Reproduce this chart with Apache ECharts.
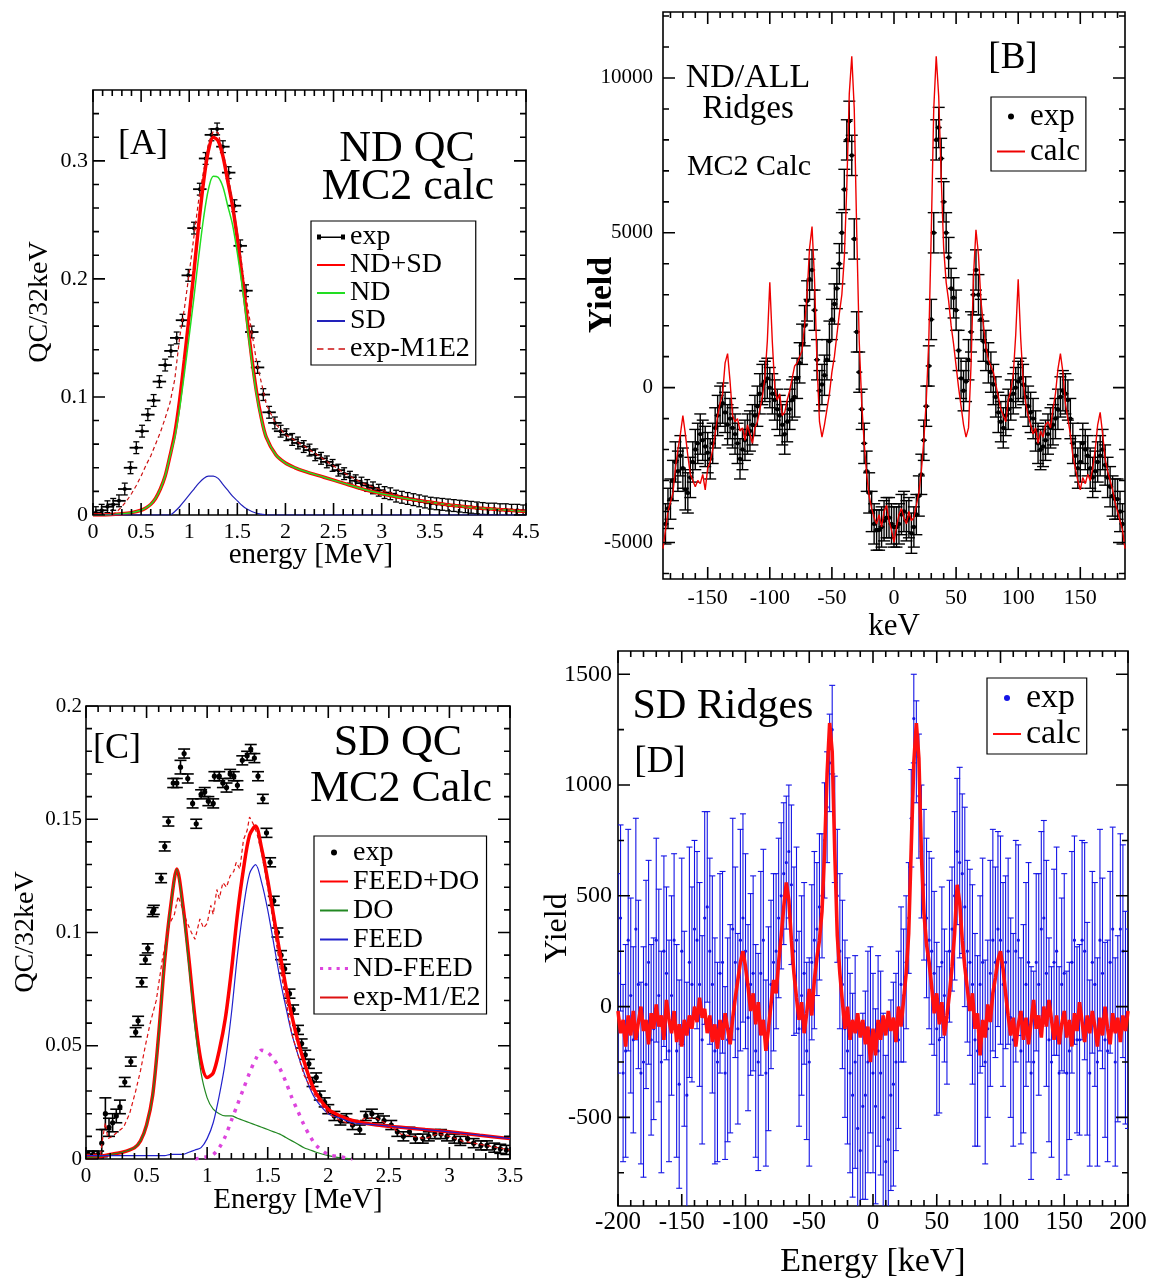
<!DOCTYPE html>
<html><head><meta charset="utf-8">
<script src="https://cdn.jsdelivr.net/npm/echarts@6.0.0/dist/echarts.min.js"></script>
<style>html,body{margin:0;padding:0;background:#fff}#c{width:1151px;height:1282px}</style>
</head><body><div id="c"></div>
<script>
// ---------------- Panel A : ND QC ----------------
const A_xLabels = [0,0.5,1,1.5,2,2.5,3,3.5,4,4.5];
const A_yLabels = [0,0.1,0.2,0.3];
const A_expX = [0.03,0.09,0.15,0.21,0.27,0.33,0.39,0.45,0.51,0.57,0.63,0.69,0.75,0.81,0.87,0.93,0.99,1.05,1.11,1.17,1.23,1.29,1.35,1.41,1.47,1.53,1.59,1.65,1.71,1.77,1.83,1.89,1.95,2.01,2.07,2.13,2.19,2.25,2.31,2.37,2.43,2.49,2.55,2.61,2.67,2.73,2.79,2.85,2.91,2.97,3.03,3.09,3.15,3.21,3.27,3.33,3.39,3.45,3.51,3.57,3.63,3.69,3.75,3.81,3.87,3.93,3.99,4.05,4.11,4.17,4.23,4.29,4.35,4.41,4.47];
const A_expY = [0.002,0.004,0.007,0.009,0.012,0.022,0.04,0.057,0.071,0.085,0.097,0.113,0.127,0.139,0.15,0.165,0.203,0.243,0.276,0.302,0.322,0.327,0.312,0.29,0.262,0.228,0.19,0.155,0.125,0.102,0.087,0.078,0.071,0.068,0.064,0.061,0.058,0.055,0.051,0.048,0.045,0.042,0.038,0.035,0.032,0.029,0.027,0.025,0.023,0.021,0.019,0.018,0.016,0.015,0.014,0.013,0.012,0.011,0.01,0.0095,0.009,0.0085,0.008,0.0075,0.007,0.0065,0.006,0.0055,0.005,0.005,0.0045,0.0045,0.004,0.004,0.0035];
const A_expErr = 0.005;
const A_expXErr = 0.07;
const A_curveX = [0,0.1,0.2,0.3,0.4,0.5,0.55,0.6,0.65,0.7,0.75,0.8,0.85,0.9,0.95,1.0,1.05,1.1,1.15,1.2,1.25,1.3,1.35,1.4,1.45,1.5,1.55,1.6,1.65,1.7,1.75,1.8,1.9,2.0,2.1,2.2,2.4,2.6,2.8,3.0,3.25,3.5,3.75,4.0,4.25,4.5];
const A_ndsd = [0,0,0.0005,0.001,0.002,0.004,0.006,0.009,0.014,0.022,0.033,0.05,0.069,0.097,0.132,0.169,0.207,0.247,0.283,0.309,0.32,0.317,0.304,0.283,0.262,0.234,0.202,0.167,0.133,0.104,0.082,0.066,0.051,0.044,0.04,0.037,0.032,0.027,0.022,0.018,0.014,0.011,0.008,0.006,0.0045,0.003];
const A_nd = [0,0,0.0005,0.001,0.002,0.004,0.006,0.009,0.014,0.022,0.033,0.05,0.066,0.09,0.12,0.152,0.185,0.22,0.252,0.276,0.287,0.286,0.278,0.262,0.246,0.222,0.194,0.162,0.13,0.102,0.081,0.066,0.051,0.044,0.04,0.037,0.032,0.027,0.022,0.018,0.014,0.011,0.008,0.006,0.0045,0.003];
const A_sd = [0,0,0,0,0,0,0,0,0,0,0,0,0.003,0.007,0.012,0.017,0.022,0.027,0.031,0.033,0.033,0.031,0.026,0.021,0.016,0.012,0.008,0.005,0.003,0.0015,0.0008,0,0,0,0,0,0,0,0,0,0,0,0,0,0,0];
const A_m1e2X = [0.2,0.25,0.3,0.35,0.4,0.45,0.5,0.55,0.6,0.65,0.7,0.75,0.8,0.85,0.9,0.95,1.0,1.1,1.2,1.25,1.3,1.4,1.5,1.6,1.7,1.8,1.9,2.0,2.2,2.4,2.6,2.8,3.0,3.25,3.5,3.75,4.0,4.25,4.5];
const A_m1e2Y = [0.0,0.003,0.007,0.012,0.018,0.025,0.033,0.042,0.05,0.06,0.07,0.082,0.095,0.115,0.15,0.175,0.205,0.268,0.315,0.325,0.324,0.29,0.24,0.18,0.13,0.094,0.077,0.068,0.058,0.047,0.036,0.027,0.021,0.015,0.011,0.008,0.006,0.0045,0.0035];

// ---------------- Panel B : ND/ALL Ridges ----------------
const B_xLabels = [-150,-100,-50,0,50,100,150];
const B_yLabels = [-5000,0,5000,10000];
const B_expX = [-184,-180,-176,-172,-168,-164,-160,-156,-152,-148,-144,-140,-136,-132,-128,-124,-120,-116,-112,-108,-104,-100,-96,-92,-88,-84,-80,-76,-72,-68,-64,-60,-56,-52,-48,-44,-40,-36,-32,-28,-24,-20,-16,-12,-8,-4,0,4,8,12,16,20,24,28,32,36,40,44,48,52,56,60,64,68,72,76,80,84,88,92,96,100,104,108,112,116,120,124,128,132,136,140,144,148,152,156,160,164,168,172,176,180,184];
const B_expY = [-4400,-3600,-2400,-2200,-3300,-2900,-2000,-1500,-1900,-2300,-1300,-600,-800,-1000,-1500,-2300,-1700,-1400,-900,-200,200,0,-400,-900,-1500,-700,-300,800,2000,3500,2500,-100,400,1500,2700,4000,6400,8600,4800,500,-1800,-3400,-4400,-4600,-4300,-4200,-4500,-4400,-4000,-4200,-4500,-3500,-1700,700,5000,8400,6000,4200,2900,1200,-100,900,3000,3000,1500,800,100,-800,-1300,-700,-200,200,100,-600,-1000,-1800,-1900,-1500,-1200,-700,-100,-400,-1800,-2600,-1800,-2200,-2900,-2400,-2000,-2900,-3500,-3600,-4400];
const B_exp2X = [-182,-178,-174,-170,-166,-162,-158,-154,-150,-146,-142,-138,-134,-130,-126,-122,-118,-114,-110,-106,-102,-98,-94,-90,-86,-82,-78,-74,-70,-66,-62,-58,-54,-50,-46,-42,-38,-34,-30,-26,-22,-18,-14,-10,-6,-2,2,6,10,14,18,22,26,30,34,38,42,46,50,54,58,62,66,70,74,78,82,86,90,94,98,102,106,110,114,118,122,126,130,134,138,142,146,150,154,158,162,166,170,174,178,182];
const B_exp2Y = [-3900,-3000,-2700,-2600,-3400,-2400,-1800,-1700,-2100,-1800,
 -900,-500,-1200,-1300,-1800,-2000,-1500,-1200,-600,100,
 300,-200,-700,-1200,-1100,-400,300,1400,2800,3800,
 900,100,900,2200,3200,5000,8000,7500,1800,-700,
 -2700,-4000,-4600,-4500,-4200,-4400,
 -4500,-4100,-4300,-4700,-4100,-2800,-600,2200,8000,7400,
 5000,3200,2500,300,200,1800,3800,2200,1200,500,
 -300,-1100,-900,-400,0,300,-300,-800,-1400,-2000,
 -1700,-1300,-1000,-300,-200,-1000,-2200,-2400,-2000,-2600,
 -2700,-2200,-2500,-3200,-3600,-4000];
const B_expErr = 650;
const B_calcX = [-186,-184,-182,-180,-178,-176,-174,-172,-170,-168,-166,-164,-162,-160,-158,-156,-154,-152,-150,-148,-146,-144,-142,-140,-138,-136,-134,-132,-130,-128,-126,-124,-122,-120,-118,-116,-114,-112,-110,-108,-106,-104,-102,-100,-98,-96,-94,-92,-90,-88,-86,-84,-82,-80,-78,-76,-74,-72,-70,-68,-66,-64,-62,-60,-58,-56,-54,-52,-50,-48,-46,-44,-42,-40,-38,-36,-34,-32,-30,-28,-26,-24,-22,-20,-18,-16,-14,-12,-10,-8,-6,-4,-2,0,2,4,6,8,10,12,14,16,18,20,22,24,26,28,30,32,34,36,38,40,42,44,46,48,50,52,54,56,58,60,62,64,66,68,70,72,74,76,78,80,82,84,86,88,90,92,94,96,98,100,102,104,106,108,110,112,114,116,118,120,122,124,126,128,130,132,134,136,138,140,142,144,146,148,150,152,154,156,158,160,162,164,166,168,170,172,174,176,178,180,182,184,186];
const B_calcY = [-5200,-4600,-4000,-3700,-3400,-2600,-2000,-1500,-900,-1500,
 -2200,-2800,-3000,-3200,-3000,-3100,-2800,-3300,-2600,-2400,
 -2000,-1500,-900,-500,-200,800,1100,200,-900,-1100,
 -1000,-1400,-1300,-1700,-1200,-1500,-1800,-1300,-1100,-700,
 -300,300,1500,3400,1500,0,-400,-200,-900,-800,
 -400,-100,300,700,800,1000,1200,2000,3000,4500,
 5200,3500,800,-1100,-1600,-1200,-700,-200,500,1000,
 1700,2400,3000,4200,6500,9500,10700,9000,5000,1500,
 -500,-1800,-2800,-3500,-3900,-4200,-4400,-4100,-4500,-4000,
 -3800,-4300,-4600,-5000,
 -4500,-4100,-3900,-4200,-4400,-4000,-4300,-4200,-3800,-3400,
 -2700,-1700,-400,1500,5000,9000,10700,9400,6800,4500,
 3400,2800,2000,1400,700,0,-600,-1200,-1600,-1300,
 700,3600,5100,4300,2800,2000,1300,900,700,500,
 100,-300,-700,-900,-1100,-400,-100,400,1700,3500,
 1600,200,-500,-900,-1200,-1500,-1300,-1800,-1400,-1600,
 -1200,-1100,-1300,-700,-200,600,1100,500,-500,-1000,
 -1500,-2200,-2600,-3000,-3300,-2900,-3100,-2800,-3000,-2600,
 -2000,-1200,-800,-1500,-2300,-2700,-3000,-3300,-3700,-4000,
 -4300,-4600,-5200];

// ---------------- Panel C : SD QC ----------------
const C_xLabels = [0,0.5,1,1.5,2,2.5,3,3.5];
const C_yLabels = [0,0.05,0.1,0.15,0.2];
const C_expX = [0.02,0.06,0.1,0.13,0.16,0.19,0.22,0.25,0.28,0.32,
 0.37,0.41,0.43,0.46,0.49,0.51,0.55,0.56,0.62,0.65,
 0.68,0.72,0.75,0.78,0.81,0.84,0.88,0.91,0.95,0.98,
 1.01,1.05,1.06,1.1,1.13,1.16,1.19,1.22,1.25,1.29,
 1.33,1.36,1.39,1.42,1.46,1.49,1.52,1.55,1.58,1.61,
 1.64,1.68,1.71,1.75,1.78,1.81,1.84,1.87,1.9,1.93,
 1.97,2.0,2.05,2.1,2.15,2.2,2.26,2.31,2.36,2.41,
 2.46,2.52,2.57,2.62,2.67,2.72,2.78,2.83,2.88,2.93,
 2.98,3.04,3.09,3.15,3.2,3.26,3.31,3.37,3.42,3.47];
const C_expY = [0.002,0.002,0.002,0.007,0.02,0.014,0.016,0.019,0.023,0.034,
 0.043,0.056,0.061,0.078,0.088,0.093,0.109,0.11,0.124,0.138,
 0.149,0.166,0.166,0.173,0.179,0.168,0.157,0.148,0.161,0.162,
 0.158,0.157,0.169,0.169,0.166,0.164,0.17,0.169,0.165,0.176,
 0.178,0.181,0.177,0.169,0.159,0.144,0.131,0.114,0.1,0.09,
 0.084,0.073,0.066,0.057,0.051,0.046,0.042,0.034,0.036,0.028,
 0.025,0.022,0.019,0.017,0.018,0.015,0.013,0.019,0.02,0.018,
 0.017,0.015,0.012,0.01,0.012,0.009,0.009,0.01,0.011,0.011,
 0.01,0.009,0.008,0.009,0.007,0.006,0.006,0.005,0.0045,0.004];
const C_expErr = [0.0015,0.0015,0.0015,0.006,0.007,0.004,0.004,0.003,0.003,0.002,
 0.002,0.002,0.002,0.002,0.002,0.002,0.002,0.002,0.002,0.002,
 0.002,0.002,0.002,0.003,0.002,0.002,0.002,0.002,0.002,0.002,
 0.002,0.002,0.002,0.002,0.002,0.002,0.002,0.002,0.002,0.002,
 0.002,0.002,0.002,0.002,0.002,0.002,0.002,0.002,0.002,0.002,
 0.002,0.002,0.002,0.002,0.002,0.002,0.002,0.002,0.002,0.002,
 0.002,0.002,0.002,0.002,0.002,0.002,0.002,0.002,0.002,0.002,
 0.002,0.002,0.002,0.002,0.002,0.002,0.002,0.002,0.002,0.002,
 0.002,0.002,0.002,0.002,0.002,0.002,0.002,0.002,0.002,0.002];
const C_curveX = [0,0.1,0.2,0.3,0.4,0.45,0.5,0.55,0.6,0.65,0.7,0.75,0.8,0.85,0.9,0.95,1.0,1.05,1.1,1.15,1.2,1.25,1.3,1.35,1.4,1.45,1.5,1.55,1.6,1.65,1.7,1.75,1.8,1.85,1.9,2.0,2.1,2.2,2.4,2.6,2.8,3.0,3.25,3.5];
const C_feeddo = [0.0005,0.001,0.002,0.003,0.005,0.008,0.015,0.028,0.055,0.088,0.112,0.128,0.112,0.088,0.062,0.043,0.036,0.038,0.048,0.062,0.083,0.108,0.128,0.143,0.147,0.137,0.123,0.107,0.091,0.076,0.063,0.052,0.043,0.035,0.029,0.022,0.019,0.017,0.015,0.014,0.013,0.012,0.0105,0.009];
const C_do = [0.0005,0.001,0.002,0.003,0.005,0.008,0.015,0.028,0.055,0.088,0.112,0.128,0.11,0.085,0.058,0.038,0.027,0.022,0.02,0.019,0.019,0.018,0.017,0.016,0.015,0.014,0.013,0.012,0.011,0.0095,0.008,0.0065,0.005,0.004,0.003,0.0015,0.0005,0,null,null,null,null,null,null];
const C_feed = [0.0015,0.0015,0.0015,0.0015,0.0015,0.0015,0.0015,0.0015,0.0015,0.0015,0.002,0.002,0.002,0.003,0.004,0.005,0.009,0.016,0.028,0.043,0.064,0.09,0.111,0.126,0.13,0.122,0.11,0.095,0.08,0.067,0.055,0.046,0.038,0.031,0.026,0.02,0.018,0.016,0.015,0.014,0.013,0.012,0.0105,0.009];
const C_ndfeed = [null,null,null,null,null,null,null,null,null,null,null,null,null,null,0,0.0005,0.001,0.002,0.005,0.01,0.017,0.024,0.031,0.038,0.044,0.048,0.047,0.044,0.04,0.034,0.027,0.021,0.015,0.01,0.006,0.002,0.001,0,null,null,null,null,null,null];
const C_m1e2X = [0.0,0.12,0.14,0.16,0.18,0.22,0.26,0.31,0.36,0.41,0.45,0.49,0.53,0.58,0.63,0.69,0.73,0.76,0.8,0.83,0.87,0.9,0.94,0.97,1.0,1.03,1.05,1.08,1.1,1.13,1.16,1.19,1.22,1.24,1.27,1.3,1.33,1.35,1.38,1.41,1.45,1.5,1.55,1.6,1.7,1.8,1.9,2.0,2.1,2.2,2.3,2.4,2.5,2.6,2.7,2.8,2.9,3.0,3.1,3.2,3.3,3.4,3.5];
const C_m1e2Y = [0.002,0.002,0.01,0.016,0.009,0.01,0.012,0.014,0.02,0.03,0.039,0.05,0.06,0.07,0.088,0.104,0.108,0.116,0.11,0.105,0.1,0.097,0.106,0.102,0.104,0.112,0.108,0.119,0.115,0.122,0.12,0.125,0.127,0.131,0.128,0.141,0.145,0.151,0.148,0.144,0.135,0.12,0.103,0.085,0.055,0.037,0.027,0.02,0.017,0.015,0.018,0.018,0.015,0.011,0.01,0.009,0.011,0.01,0.008,0.007,0.006,0.005,0.004];

// ---------------- Panel D : SD Ridges ----------------
const D_xLabels = [-200,-150,-100,-50,0,50,100,150,200];
const D_yLabels = [-500,0,500,1000,1500];
const D_expX = [-200,-196,-192,-188,-184,-180,-176,-172,-168,-164,-160,-156,-152,-148,-144,-140,-136,-132,-128,-124,-120,-116,-112,-108,-104,-100,-96,-92,-88,-84,-80,-76,-72,-68,-64,-60,-56,-52,-48,-44,-40,-36,-32,-28,-24,-20,-16,-12,-8,-4,0,4,8,12,16,20,24,28,32,36,40,44,48,52,56,60,64,68,72,76,80,84,88,92,96,100,104,108,112,116,120,124,128,132,136,140,144,148,152,156,160,164,168,172,176,180,184,188,192,196,200];
const D_expY = [150,-300,300,-150,100,-250,200,-100,50,250,
 -200,300,-350,-100,200,350,100,400,250,-200,
 150,-300,-100,200,300,250,100,-200,150,-300,
 100,250,500,650,550,300,50,-200,200,350,
 500,900,1250,500,100,-200,-400,-550,-450,-250,
 -300,
 -200,-500,-600,-350,-150,50,400,1300,950,550,
 300,150,-150,50,250,500,650,450,200,-150,
 100,-250,150,200,300,200,-50,250,-200,100,
 -300,200,350,150,-250,250,100,-300,200,-150,
 300,-100,200,-250,150,-200,350,-100,250,-100];
const D_expErr = [450,400,500,420,380,520,460,410,480,430,
 500,390,470,440,520,400,460,480,420,510,
 450,390,470,430,500,440,410,480,460,420,
 380,350,330,300,360,420,450,400,350,300,
 280,250,200,300,380,420,460,480,420,500,
 450,
 430,470,520,460,400,300,250,200,280,340,
 400,370,330,300,320,380,430,450,420,480,
 400,460,510,430,470,390,450,500,420,460,
 480,400,440,510,430,470,390,460,500,420,
 450,480,410,470,430,500,460,420,480,450];
const D_exp2X = [-198,-194,-190,-186,-182,-178,-174,-170,-166,-162,-158,-154,-150,-146,-142,-138,-134,-130,-126,-122,-118,-114,-110,-106,-102,-98,-94,-90,-86,-82,-78,-74,-70,-66,-62,-58,-54,-50,-46,-42,-38,-34,-30,-26,-22,-18,-14,-10,-6,-2,2,6,10,14,18,22,26,30,34,38,42,46,50,54,58,62,66,70,74,78,82,86,90,94,98,102,106,110,114,118,122,126,130,134,138,142,146,150,154,158,162,166,170,174,178,182,186,190,194,198];
const D_exp2Y = [400,-200,50,350,-300,100,-150,300,-250,150,
 50,-200,250,-400,100,300,-150,450,100,-250,
 200,-150,350,-100,400,-50,150,-250,300,-100,
 200,400,600,700,250,-100,150,-250,300,450,
 750,1100,800,250,-100,-300,-250,-650,-400,-150,
 -450,-300,-700,-400,-250,100,200,850,1150,700,
 400,250,-100,200,-50,350,700,600,250,100,
 -200,200,-100,300,350,100,250,-150,300,-100,
 200,-250,100,400,-150,200,-300,150,-200,300,
 -150,250,-300,100,300,-150,200,-250,350,-50];
const D_exp2Err = [420,480,440,500,410,470,430,460,500,390,
 450,480,420,510,440,400,470,430,490,450,
 410,460,500,430,470,420,440,490,410,460,
 400,360,320,300,380,440,410,470,400,330,
 260,220,240,350,400,450,480,430,470,420,
 440,460,480,430,400,350,300,220,230,300,
 360,420,390,340,300,280,330,360,410,450,
 430,470,400,500,440,460,420,480,430,470,
 450,410,500,440,460,420,480,450,400,470,
 430,490,420,460,500,440,410,470,430,480];
const D_calcX = [-200,-198,-196,-194,-192,-190,-188,-186,-184,-182,-180,-178,-176,-174,-172,-170,-168,-166,-164,-162,-160,-158,-156,-154,-152,-150,-148,-146,-144,-142,-140,-138,-136,-134,-132,-130,-128,-126,-124,-122,-120,-118,-116,-114,-112,-110,-108,-106,-104,-102,-100,-98,-96,-94,-92,-90,-88,-86,-84,-82,-80,-78,-76,-74,-72,-70,-68,-66,-64,-62,-60,-58,-56,-54,-52,-50,-48,-46,-44,-42,-40,-38,-36,-34,-32,-30,-28,-26,-24,-22,-20,-18,-16,-14,-12,-10,-8,-6,-4,-2,0,2,4,6,8,10,12,14,16,18,20,22,24,26,28,30,32,34,36,38,40,42,44,46,48,50,52,54,56,58,60,62,64,66,68,70,72,74,76,78,80,82,84,86,88,90,92,94,96,98,100,102,104,106,108,110,112,114,116,118,120,122,124,126,128,130,132,134,136,138,140,142,144,146,148,150,152,154,156,158,160,162,164,166,168,170,172,174,176,178,180,182,184,186,188,190,192,194,196,198,200];
const D_calcY = [-20,-120,-60,-180,-40,-130,-20,-150,-70,0,
 -110,-60,-170,-30,-100,10,-90,-40,-150,30,
 -60,-120,-20,-160,-80,-180,-60,-130,-40,-100,
 0,-70,40,-50,-10,-120,-40,-160,-80,-190,
 -60,-150,-30,-100,-170,-50,40,120,200,250,
 180,90,-20,60,-80,20,-130,-60,-200,-100,
 10,120,60,200,320,450,560,480,300,150,
 40,-60,20,-120,-30,80,-40,120,220,300,
 430,700,1050,1280,1150,700,320,150,20,-100,
 0,-150,-60,-120,-30,-140,-60,-170,-90,-250,
 -100,
 -220,-60,-150,-40,-130,-20,-110,-50,-160,0,
 -90,30,150,330,720,1100,1280,1120,680,420,
 280,200,90,-30,60,-80,20,-130,-40,60,
 180,330,550,470,300,180,80,-20,60,-100,
 -30,-220,-60,-140,10,-70,60,130,210,250,
 170,60,-40,-130,-50,-180,-80,-20,-150,-50,
 -170,-70,30,-100,-40,-140,0,-90,30,-60,
 -150,-40,-170,-80,-20,-140,-60,-180,-30,-110,
 20,-70,-160,-40,-120,-20,-90,-180,-50,-130,
 0,-100,-170,-30,-120,-50,-160,-40,-110,-20];

// ---------------- helpers ----------------
const FONT = '"Liberation Serif","Times New Roman",serif';
function pairs(xs, ys) { return xs.map((x, i) => [x, ys[i]]); }
function triples(xs, ys, es) { return xs.map((x, i) => [x, ys[i], Array.isArray(es) ? es[i] : es]); }
function tickVals(a, b, s) { const r = []; const n = Math.round((b - a) / s); for (let i = 0; i <= n; i++) r.push(+(a + i * s).toFixed(6)); return r; }

const gridBoxes = [
  {left: 93, top: 90, width: 433, height: 425},
  {left: 663, top: 12, width: 462, height: 567},
  {left: 86, top: 706, width: 424, height: 453},
  {left: 618, top: 651, width: 510, height: 555}
];
const grids = gridBoxes.map(g => Object.assign({}, g, {show: true, borderColor: '#000', borderWidth: 1.6, backgroundColor: 'transparent'}));

const axCfg = [
  {x: {min: 0, max: 4.5, labels: A_xLabels, minor: tickVals(0, 4.5, 0.1), margin: 6, fontSize: 22},
   y: {min: 0, max: 0.36, labels: A_yLabels, minor: tickVals(0, 0.34, 0.02), margin: 5, fontSize: 22}},
  {x: {min: -186, max: 186, labels: B_xLabels, minor: tickVals(-180, 180, 10), margin: 8, fontSize: 22},
   y: {min: -6180, max: 12130, labels: B_yLabels, minor: tickVals(-6000, 12000, 1000), margin: 10, fontSize: 21}},
  {x: {min: 0, max: 3.5, labels: C_xLabels, minor: tickVals(0, 3.5, 0.1), margin: 7, fontSize: 21},
   y: {min: 0, max: 0.2, labels: C_yLabels, minor: tickVals(0, 0.2, 0.01), margin: 4, fontSize: 21}},
  {x: {min: -200, max: 200, labels: D_xLabels, minor: tickVals(-200, 200, 10), margin: 4, fontSize: 25},
   y: {min: -900, max: 1605, labels: D_yLabels, minor: tickVals(-750, 1500, 250), margin: 6, fontSize: 24}}
];
function axis(gi, c, pos) {
  return {type: 'value', gridIndex: gi, position: pos, min: c.min, max: c.max,
    axisLine: {show: false, onZero: false}, axisTick: {show: false},
    splitLine: {show: false}, minorTick: {show: false}, axisPointer: {show: false},
    axisLabel: {show: true, customValues: c.labels, margin: c.margin, fontFamily: FONT,
      fontSize: c.fontSize, color: '#000', formatter: v => String(v)}};
}
const xAxes = axCfg.map((c, i) => axis(i, c.x, 'bottom'));
const yAxes = axCfg.map((c, i) => axis(i, c.y, 'left'));

// inward frame ticks (all four sides): short segments of a clipped line series, placed through the axis scales
const MAJOR_LEN = 12, MINOR_LEN = 6;
function tickLine(g) {
  const c = axCfg[g], box = gridBoxes[g];
  const perPxY = (c.y.max - c.y.min) / box.height;
  const perPxX = (c.x.max - c.x.min) / box.width;
  const d = [];
  const vt = (vals, len) => vals.forEach(v => {
    d.push([v, c.y.min], [v, c.y.min + len * perPxY], [v, '-']);
    d.push([v, c.y.max], [v, c.y.max - len * perPxY], [v, '-']);
  });
  const ht = (vals, len) => vals.forEach(v => {
    d.push([c.x.min, v], [c.x.min + len * perPxX, v], ['-', v]);
    d.push([c.x.max, v], [c.x.max - len * perPxX, v], ['-', v]);
  });
  vt(c.x.labels, MAJOR_LEN); vt(c.x.minor, MINOR_LEN); ht(c.y.labels, MAJOR_LEN); ht(c.y.minor, MINOR_LEN);
  return {type: 'line', name: 'frame ticks ' + g, xAxisIndex: g, yAxisIndex: g, data: d,
    showSymbol: false, symbol: 'none', silent: true, z: 4, clip: true, connectNulls: false,
    itemStyle: {color: '#000'}, lineStyle: {color: '#000', width: 1.6}};
}

function errorBars(o) {
  return function (params, api) {
    const x = api.value(0), y = api.value(1), e = api.value(2);
    const c = api.coord([x, y]);
    const lo = api.coord([x, y - e]);
    const hi = api.coord([x, y + e]);
    const st = {stroke: o.color, lineWidth: o.lw};
    const ch = [
      {type: 'line', shape: {x1: c[0], y1: lo[1], x2: c[0], y2: hi[1]}, style: st},
      {type: 'line', shape: {x1: c[0] - o.cap, y1: lo[1], x2: c[0] + o.cap, y2: lo[1]}, style: st},
      {type: 'line', shape: {x1: c[0] - o.cap, y1: hi[1], x2: c[0] + o.cap, y2: hi[1]}, style: st},
      {type: 'circle', shape: {cx: c[0], cy: c[1], r: o.r}, style: {fill: o.color}}
    ];
    if (o.xerr) {
      const l = api.coord([x - o.xerr, y]), r = api.coord([x + o.xerr, y]);
      ch.push({type: 'line', shape: {x1: l[0], y1: c[1], x2: r[0], y2: c[1]}, style: {stroke: o.color, lineWidth: o.xlw || o.lw}});
    }
    return {type: 'group', children: ch};
  };
}
function errSeries(name, g, data, o) {
  return {type: 'custom', name, xAxisIndex: g, yAxisIndex: g, data, encode: {x: 0, y: 1},
    renderItem: errorBars(o), itemStyle: {color: o.color}, clip: true, silent: true, z: 2};
}
function lineSeries(name, g, data, color, width, extra) {
  return Object.assign({type: 'line', name, xAxisIndex: g, yAxisIndex: g, data,
    showSymbol: false, symbol: 'none', silent: true, z: 3, clip: true, connectNulls: false,
    itemStyle: {color}, lineStyle: {color, width}}, extra || {});
}

const series = [
  errSeries('A exp', 0, triples(A_expX, A_expY, A_expErr), {color: '#000', lw: 1.3, cap: 3, r: 2, xerr: A_expXErr, xlw: 1.8}),
  lineSeries('A ND+SD', 0, pairs(A_curveX, A_ndsd), '#ff0000', 3.5, {smooth: 0.3}),
  lineSeries('A ND', 0, pairs(A_curveX, A_nd), '#22dd22', 1.5, {smooth: 0.3}),
  lineSeries('A SD', 0, pairs(A_curveX, A_sd), '#2222bb', 1.2, {smooth: 0.3}),
  lineSeries('A exp-M1E2', 0, pairs(A_m1e2X, A_m1e2Y), '#cc1111', 1.2, {lineStyle: {color: '#cc1111', width: 1.2, type: [4, 3]}}),
  errSeries('B exp', 1, triples(B_expX, B_expY, B_expErr).concat(triples(B_exp2X, B_exp2Y, B_expErr)), {color: '#000', lw: 1.4, cap: 6, r: 2.2, xerr: 2.5}),
  lineSeries('B calc', 1, pairs(B_calcX, B_calcY), '#ee0000', 1.4),
  errSeries('C exp', 2, triples(C_expX, C_expY, C_expErr), {color: '#000', lw: 1.6, cap: 6, r: 2.6}),
  lineSeries('C FEED+DO', 2, pairs(C_curveX, C_feeddo), '#ff0000', 3.5, {smooth: 0.3}),
  lineSeries('C DO', 2, pairs(C_curveX, C_do), '#228822', 1.2, {smooth: 0.3}),
  lineSeries('C FEED', 2, pairs(C_curveX, C_feed), '#2222cc', 1.2, {smooth: 0.3}),
  lineSeries('C ND-FEED', 2, pairs(C_curveX, C_ndfeed), '#dd44dd', 3, {smooth: 0.3, lineStyle: {color: '#dd44dd', width: 3.5, type: [3.5, 6]}}),
  lineSeries('C exp-M1/E2', 2, pairs(C_m1e2X, C_m1e2Y), '#dd1111', 1.2, {lineStyle: {color: '#dd1111', width: 1.2, type: [4, 3]}}),
  errSeries('D exp', 3, triples(D_expX, D_expY, D_expErr).concat(triples(D_exp2X, D_exp2Y, D_exp2Err)), {color: '#1414e6', lw: 1.1, cap: 3, r: 1.6}),
  lineSeries('D calc', 3, pairs(D_calcX, D_calcY), '#ff1010', 3.6),
  tickLine(0), tickLine(1), tickLine(2), tickLine(3)
];

const LINE = 'path://M0,0h28v2h-28z';
const DASH = 'path://M0,0h6v1.5h-6z M10,0h6v1.5h-6z M20,0h6v1.5h-6z';
const DOTS = 'path://M0,0h3v3h-3z M8,0h3v3h-3z M16,0h3v3h-3z M24,0h3v3h-3z';
const HERR = 'path://M0,0h4v5h-4z M24,0h4v5h-4z M0,2h28v1.4h-28z';
function legend(left, top, fontSize, lh, data) {
  return {left, top, orient: 'vertical', selectedMode: false, data,
    formatter: n => n.substring(2),
    backgroundColor: '#fff', borderColor: '#000', borderWidth: 1.2, borderRadius: 0,
    padding: [2, 6, 2, 6], itemGap: 0, itemWidth: 28, itemHeight: 6, symbolKeepAspect: true,
    itemStyle: {borderWidth: 0},
    textStyle: {fontFamily: FONT, fontSize, color: '#000', lineHeight: lh}};
}
const legends = [
  legend(311, 221, 28, 26.5, [{name: 'A exp', icon: HERR}, {name: 'A ND+SD', icon: LINE}, {name: 'A ND', icon: LINE}, {name: 'A SD', icon: LINE}, {name: 'A exp-M1E2', icon: DASH}]),
  legend(991, 97, 31, 35, [{name: 'B exp', icon: 'circle'}, {name: 'B calc', icon: LINE}]),
  legend(314, 836, 28, 29, [{name: 'C exp', icon: 'circle'}, {name: 'C FEED+DO', icon: LINE}, {name: 'C DO', icon: LINE}, {name: 'C FEED', icon: LINE}, {name: 'C ND-FEED', icon: DOTS}, {name: 'C exp-M1/E2', icon: LINE}]),
  legend(987, 678, 34, 36, [{name: 'D exp', icon: 'circle'}, {name: 'D calc', icon: LINE}])
];

function txt(x, y, s, size, o) {
  o = o || {};
  return {type: 'text', x, y, rotation: o.rot || 0, silent: true, z: 100,
    style: {text: s, fontSize: size, fontFamily: FONT, fontWeight: o.bold ? 'bold' : 'normal', fill: '#000',
      textAlign: 'center', textVerticalAlign: 'middle', align: 'center', verticalAlign: 'middle'}};
}
const R = Math.PI / 2;
const graphics = [
  txt(143, 145, '[A]', 36), txt(407, 149, 'ND QC', 44), txt(408, 187, 'MC2 calc', 44),
  txt(40, 302, 'QC/32keV', 28, {rot: R}), txt(311, 555, 'energy [MeV]', 29),
  txt(1013, 58, '[B]', 37), txt(748, 78, 'ND/ALL', 34), txt(748, 109, 'Ridges', 33), txt(749, 167, 'MC2 Calc', 30),
  txt(602, 295, 'Yield', 34, {rot: R, bold: true}), txt(894, 627, 'keV', 31),
  txt(117, 749, '[C]', 36), txt(398, 743, 'SD QC', 44), txt(401, 789, 'MC2 Calc', 44),
  txt(26, 932, 'QC/32keV', 28, {rot: R}), txt(298, 1200, 'Energy [MeV]', 29),
  txt(723, 707, 'SD Ridges', 42), txt(660, 762, '[D]', 37),
  txt(558, 928, 'Yield', 32, {rot: R}), txt(873, 1262, 'Energy [keV]', 34)
];

const chart = echarts.init(document.getElementById('c'), null, {renderer: 'canvas', width: 1151, height: 1282});
chart.setOption({
  animation: false,
  backgroundColor: '#fff',
  textStyle: {fontFamily: FONT},
  grid: grids,
  xAxis: xAxes,
  yAxis: yAxes,
  legend: legends,
  series,
  graphic: graphics
});
</script></body></html>
